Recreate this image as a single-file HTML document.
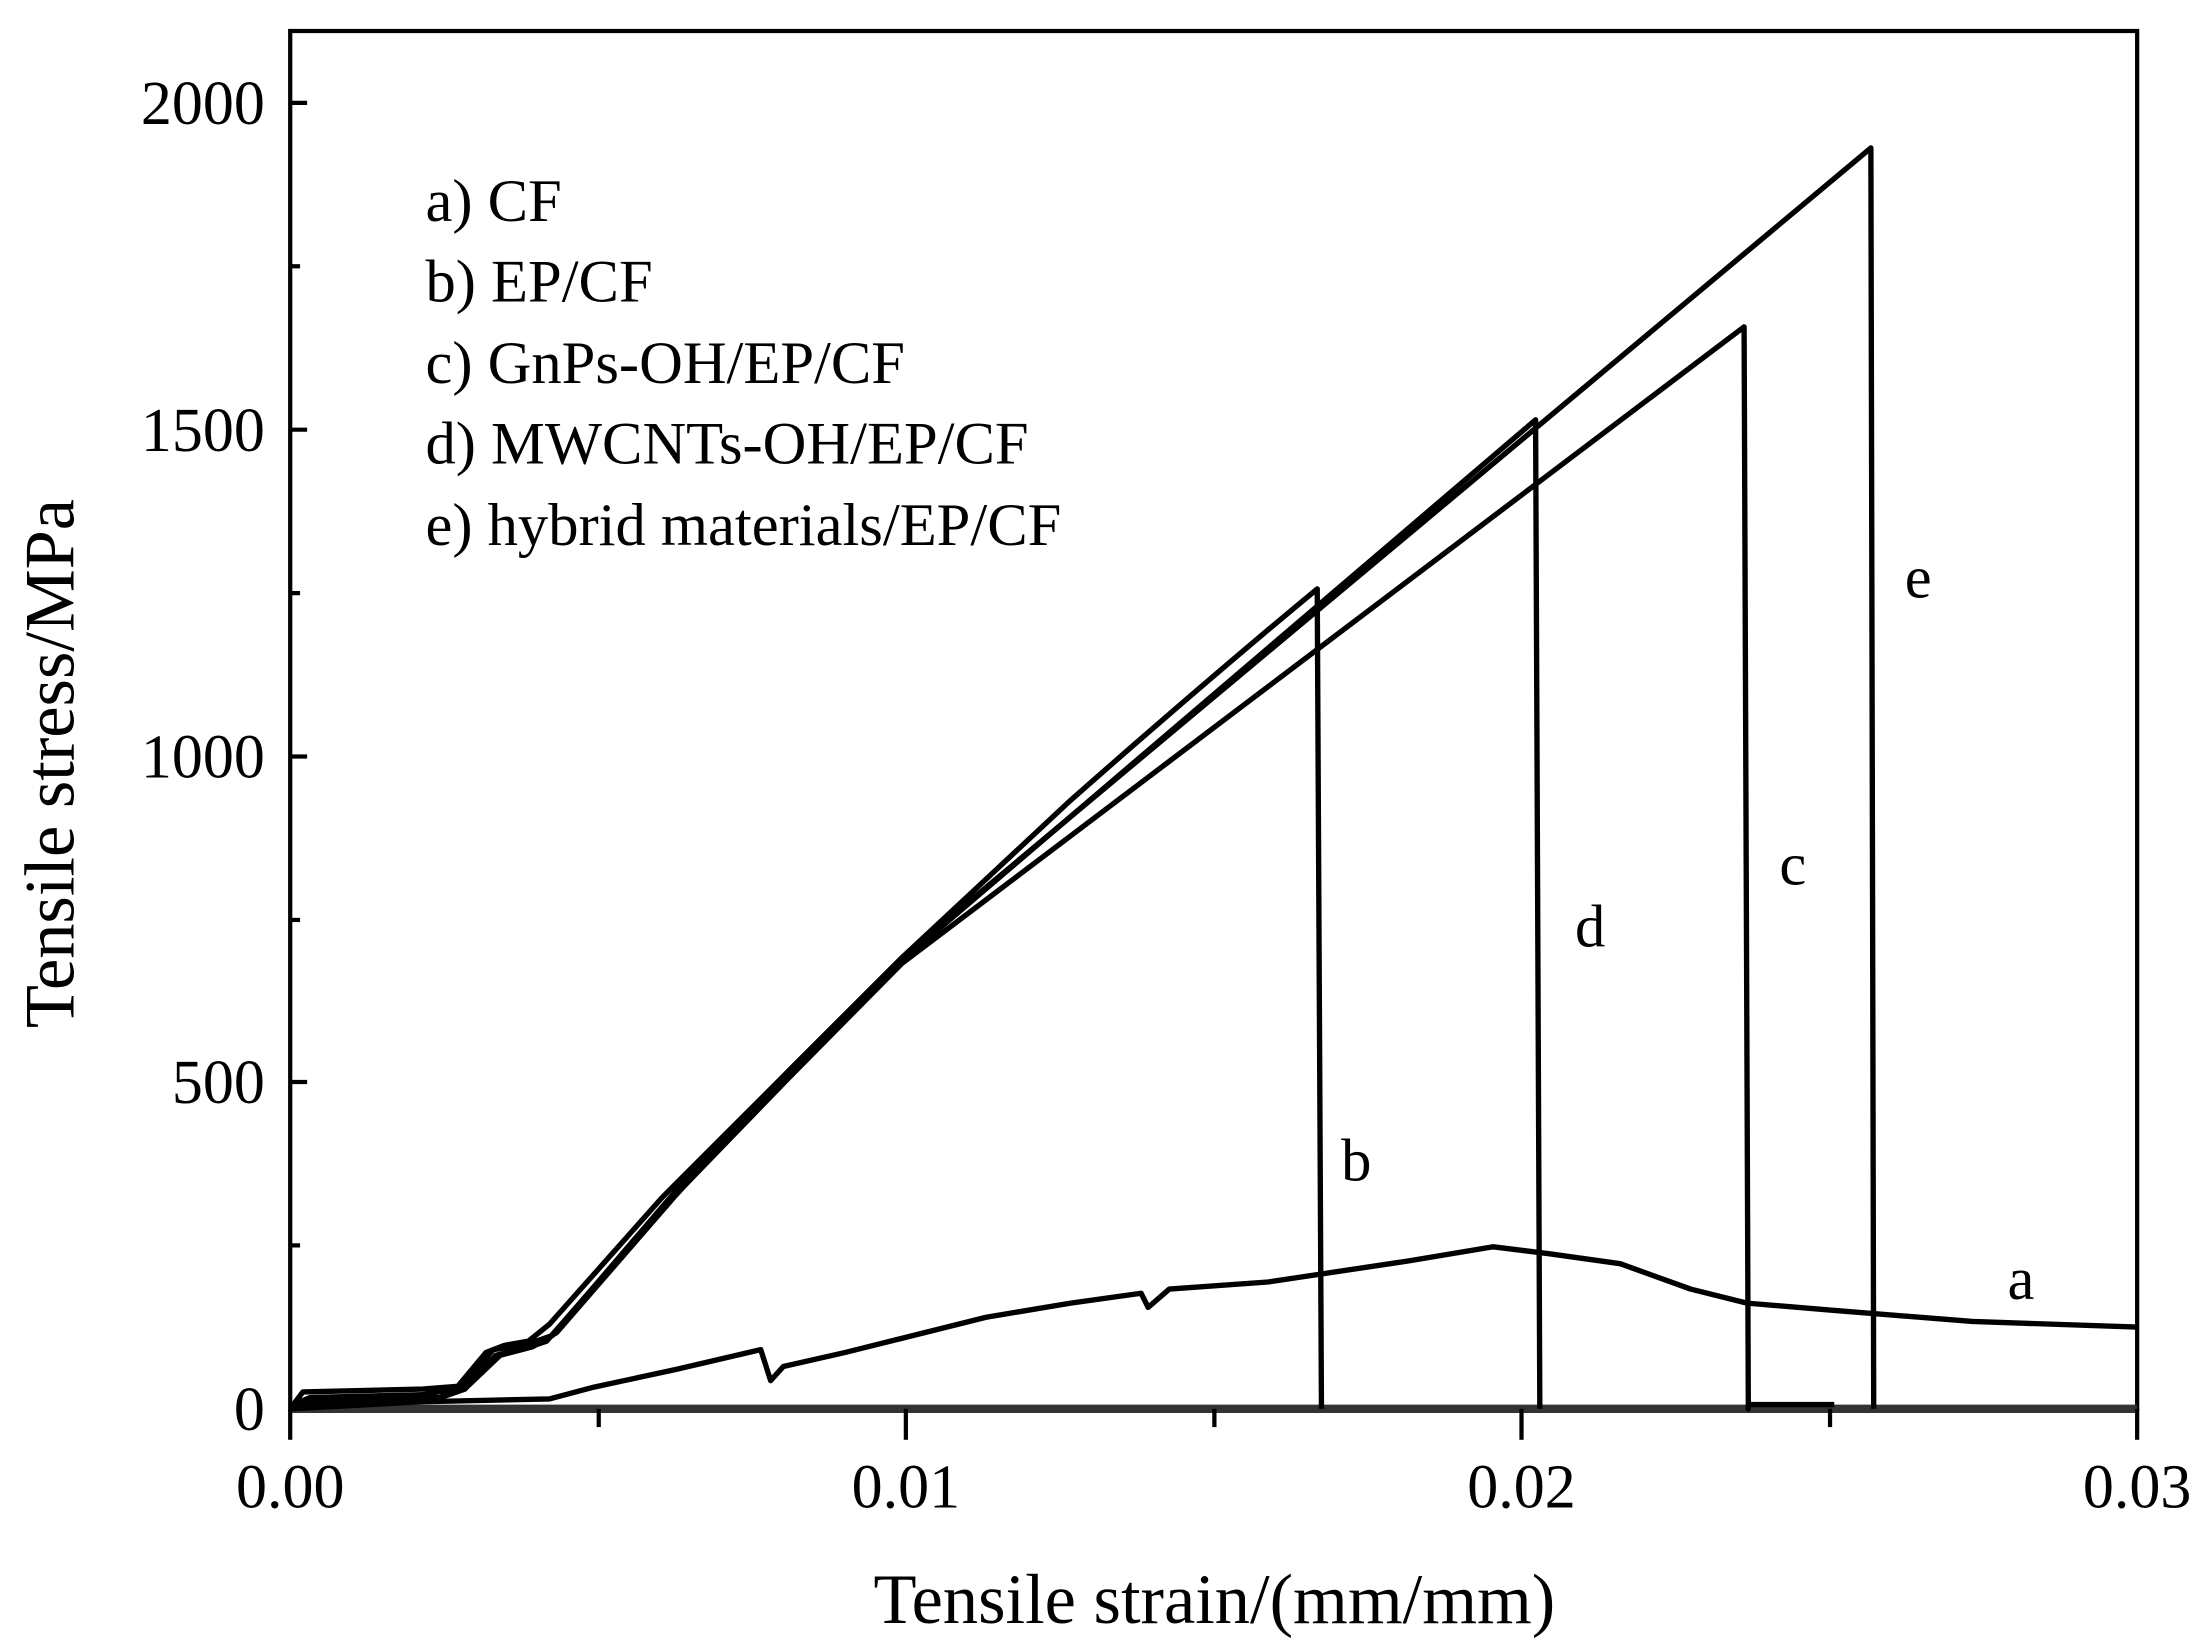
<!DOCTYPE html>
<html><head><meta charset="utf-8"><style>html,body{margin:0;padding:0;background:#fff}svg{display:block}</style></head>
<body>
<svg width="2209" height="1649" viewBox="0 0 1568 1170.5" preserveAspectRatio="none" xmlns="http://www.w3.org/2000/svg" font-family="'Liberation Serif',serif" fill="#000">
<rect x="206" y="22" width="1311" height="978" fill="none" stroke="#000" stroke-width="3"/>
<line x1="206" y1="1000" x2="1517" y2="1000" stroke="#333" stroke-width="6"/>
<g stroke="#000" stroke-width="3">
<line x1="206" y1="1000" x2="206" y2="1022"/><line x1="643" y1="1000" x2="643" y2="1022"/><line x1="1080" y1="1000" x2="1080" y2="1022"/><line x1="1517" y1="1000" x2="1517" y2="1022"/>
<line x1="425" y1="1000" x2="425" y2="1013"/><line x1="862" y1="1000" x2="862" y2="1013"/><line x1="1299" y1="1000" x2="1299" y2="1013"/>
<line x1="206" y1="73" x2="218" y2="73"/><line x1="206" y1="305" x2="218" y2="305"/><line x1="206" y1="537" x2="218" y2="537"/><line x1="206" y1="768" x2="218" y2="768"/>
<line x1="206" y1="189" x2="213" y2="189"/><line x1="206" y1="421" x2="213" y2="421"/><line x1="206" y1="653" x2="213" y2="653"/><line x1="206" y1="884" x2="213" y2="884"/>
</g>
<g font-size="44" text-anchor="end">
<text x="188" y="1015">0</text><text x="188" y="783">500</text><text x="188" y="552">1000</text><text x="188" y="320">1500</text><text x="188" y="88">2000</text>
</g>
<g font-size="44" text-anchor="middle">
<text x="206" y="1070">0.00</text><text x="643" y="1070">0.01</text><text x="1080" y="1070">0.02</text><text x="1517" y="1070">0.03</text>
</g>
<text x="862" y="1152" font-size="50" text-anchor="middle">Tensile strain/(mm/mm)</text>
<text transform="translate(52,542) rotate(-90)" font-size="50" text-anchor="middle">Tensile stress/MPa</text>
<g font-size="43">
<text x="302" y="157">a) CF</text><text x="302" y="214">b) EP/CF</text><text x="302" y="272">c) GnPs-OH/EP/CF</text><text x="302" y="329">d) MWCNTs-OH/EP/CF</text><text x="302" y="387">e) hybrid materials/EP/CF</text>
<text x="1352" y="424">e</text><text x="1263" y="628">c</text><text x="1118" y="672">d</text><text x="952" y="838">b</text><text x="1425" y="922">a</text>
</g>
<g fill="none" stroke="#000" stroke-width="3.8" stroke-linejoin="round">
<path d="M206,1000 L215,988 L300,986 L325,984 L345,960 L358,955 L375,952 L390,940 L470,850 L560,760 L640,680 L760,568 Q860,480 935,418 L938,1000"/>
<path d="M206,998 L220,992 L300,990 L328,985 L350,958 L372,955 L392,948 L480,845 L560,762 L640,682 L1090,298 L1093,1000"/>
<path d="M206,998 L225,995 L310,993 L330,986 L352,962 L370,958 L388,952 L470,858 L560,765 L640,684 L1238,232 L1241,1000 L1241,997 L1302,997"/>
<path d="M206,1000 L225,996 L312,992 L333,983 L355,962 L378,956 L395,946 L480,848 L560,760 L640,680 L1328,105 L1330,1000"/>
<path d="M206,1000 L300,995 L390,993 L420,985 L480,972 L540,958 L547,980 L556,970 L600,960 L640,950 L700,935 L760,925 L810,918 L815,928 L830,915 L900,910 L1000,895 L1060,885 L1100,890 L1150,897 L1200,915 L1240,925 L1300,930 L1400,938 L1517,942"/>
</g>
</svg>
</body></html>
